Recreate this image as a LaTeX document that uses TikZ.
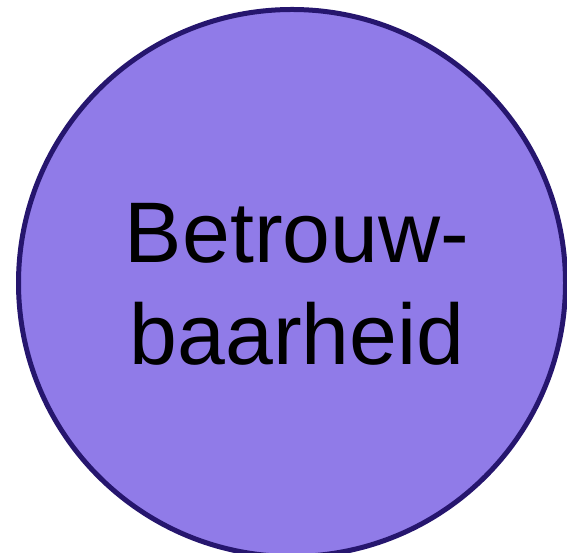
\documentclass[tikz,border=0pt]{standalone}
\usepackage{fontspec}
\setmainfont{Liberation Sans}
\usepackage{xcolor}
\definecolor{bubblefill}{RGB}{144,123,232}
\definecolor{bubbleline}{RGB}{38,22,110}
\tikzstyle{bubble} = [circle, draw=bubbleline, fill=bubblefill, line width=5pt, minimum size=547pt, inner sep=0pt]

\begin{document}
\begin{tikzpicture}[x=1pt, y=1pt]
  \useasboundingbox (0,0) rectangle (567,553);
  \clip (0,0) rectangle (567,553);
  \node[bubble] (trust) at (292,270) {};
  \node[align=center, font=\fontsize{86}{102}\selectfont, xshift=5pt, yshift=-1pt] (trusttext) at (trust.center) {Betrouw-\\baarheid};
\end{tikzpicture}
\end{document}
